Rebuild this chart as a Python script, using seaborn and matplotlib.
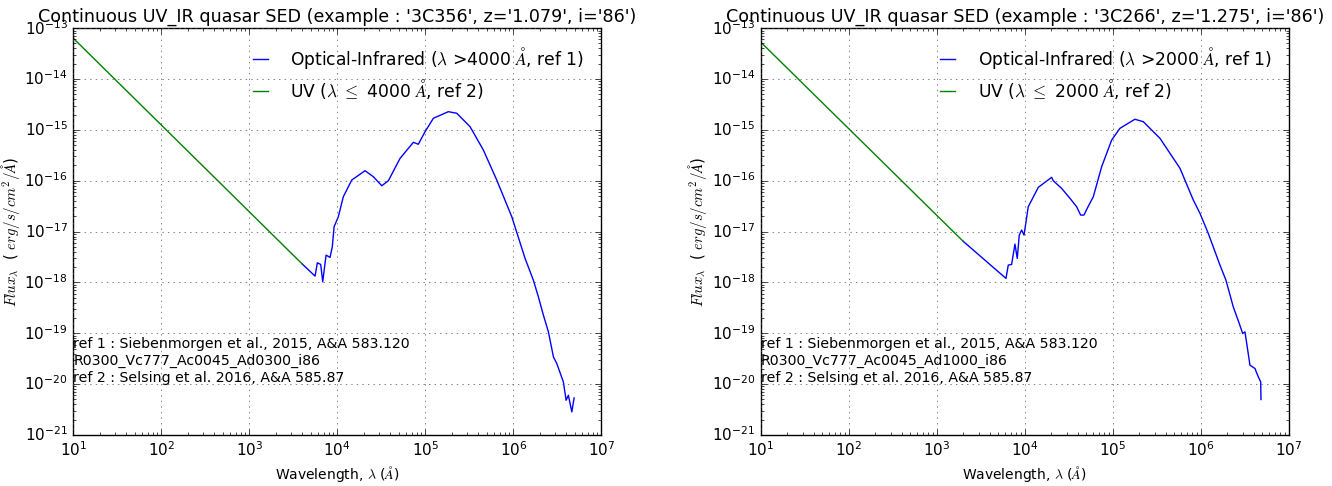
import numpy as np
import matplotlib
matplotlib.use("Agg")
import matplotlib.pyplot as plt
import seaborn as sns

# ---------------- data (log10 values) ----------------
# Left panel: 3C356
uv1_logwl = [1.0, 2.0, 3.0, 3.602]
uv1_logflux = [-13.197, -14.904, -16.611, -17.639]
ir1_logwl = [3.602, 3.747, 3.773, 3.811, 3.834, 3.872, 3.917, 3.943, 3.963, 4.011,
             4.068, 4.164, 4.315, 4.409, 4.505, 4.580, 4.713, 4.864, 4.920, 4.997,
             5.091, 5.261, 5.357, 5.508, 5.659, 5.811, 5.982, 6.133, 6.227, 6.284,
             6.341, 6.398, 6.455, 6.493, 6.568, 6.599, 6.625, 6.664, 6.690]
ir1_logflux = [-17.639, -17.876, -17.614, -17.646, -17.988, -17.463, -17.508, -17.299, -16.906, -16.709,
               -16.315, -15.986, -15.803, -15.921, -16.098, -16.000, -15.559, -15.244, -15.283, -15.035,
               -14.772, -14.642, -14.673, -14.937, -15.396, -15.986, -16.709, -17.528, -17.955, -18.283,
               -18.644, -18.972, -19.465, -19.594, -19.957, -20.317, -20.219, -20.547, -20.272]

# Right panel: 3C266
uv2_logwl = [1.0, 2.0, 3.0, 3.301]
uv2_logflux = [-13.27, -14.974, -16.678, -17.19]
ir2_logwl = [3.301, 3.788, 3.814, 3.852, 3.890, 3.916, 3.939, 3.966, 3.993, 4.041,
             4.155, 4.307, 4.325, 4.420, 4.515, 4.591, 4.636, 4.674, 4.711, 4.780,
             4.875, 4.989, 5.083, 5.177, 5.253, 5.348, 5.537, 5.765, 5.916, 5.992,
             6.086, 6.219, 6.287, 6.370, 6.438, 6.477, 6.503, 6.560, 6.617, 6.636,
             6.655, 6.682, 6.685]
ir2_logflux = [-17.19, -17.921, -17.659, -17.646, -17.246, -17.528, -17.069, -16.970, -17.069, -16.512,
               -16.130, -15.933, -16.000, -16.150, -16.346, -16.512, -16.675, -16.675, -16.543, -16.315,
               -15.724, -15.199, -14.969, -14.870, -14.791, -14.839, -15.165, -15.756, -16.380, -16.642,
               -17.035, -17.659, -17.955, -18.480, -18.807, -19.004, -18.972, -19.628, -19.693, -19.780,
               -19.858, -19.957, -20.303]

titles = ["Continuous UV_IR quasar SED (example : '3C356', z='1.079', i='86')",
          "Continuous UV_IR quasar SED (example : '3C266', z='1.275', i='86')"]
ir_labels = [r"Optical-Infrared ($\lambda$ >4000 $\AA$, ref 1)",
             r"Optical-Infrared ($\lambda$ >2000 $\AA$, ref 1)"]
uv_labels = [r"UV ($\lambda$ $\leq$ 4000 $\AA$, ref 2)",
             r"UV ($\lambda$ $\leq$ 2000 $\AA$, ref 2)"]
notes = ["ref 1 : Siebenmorgen et al., 2015, A&A 583.120\nR0300_Vc777_Ac0045_Ad0300_i86\nref 2 : Selsing et al. 2016, A&A 585.87",
         "ref 1 : Siebenmorgen et al., 2015, A&A 583.120\nR0300_Vc777_Ac0045_Ad1000_i86\nref 2 : Selsing et al. 2016, A&A 585.87"]

panels = [(uv1_logwl, uv1_logflux, ir1_logwl, ir1_logflux),
          (uv2_logwl, uv2_logflux, ir2_logwl, ir2_logflux)]

# ---------------- plot ----------------
plt.style.use("classic")
plt.rcParams["figure.facecolor"] = "white"
plt.rcParams["savefig.facecolor"] = "white"

fig = plt.figure(figsize=(13.32, 4.86), dpi=100)
lefts = [0.055, 0.571]
for i, (uwl, ufl, iwl, ifl) in enumerate(panels):
    ax = fig.add_axes([lefts[i], 0.105, 0.3965, 0.837])
    sns.lineplot(x=10 ** np.array(iwl), y=10 ** np.array(ifl), ax=ax, color="b",
                 linewidth=1, sort=False, estimator=None, label=ir_labels[i])
    sns.lineplot(x=10 ** np.array(uwl), y=10 ** np.array(ufl), ax=ax, color="g",
                 linewidth=1, sort=False, estimator=None, label=uv_labels[i])
    ax.set_xscale("log")
    ax.set_yscale("log")
    ax.set_xlim(1e1, 1e7)
    ax.set_ylim(1e-21, 1e-13)
    ax.grid(True, linestyle=":", color="0.3")
    ax.set_title(titles[i], fontsize=12.6, y=1.0)
    ax.set_xlabel(r"Wavelength, $\lambda$ ($\AA$)", fontsize=10)
    ax.set_ylabel(r"$Flux_\lambda$  ( $erg/s/cm^2/\AA$)", fontsize=10.7)
    ax.xaxis.set_label_coords(0.5, -0.072)
    ax.yaxis.set_label_coords(-0.097, 0.5)
    ax.tick_params(labelsize=11)
    ax.legend(loc="upper right", frameon=False, fontsize=12.3, handlelength=1.5,
              handletextpad=1.0, labelspacing=0.35, borderaxespad=0.6)
    ax.text(0.0, 0.182, notes[i], transform=ax.transAxes, va="center", ha="left",
            fontsize=10.2, linespacing=1.3)

fig.savefig("out.png", dpi=100)
